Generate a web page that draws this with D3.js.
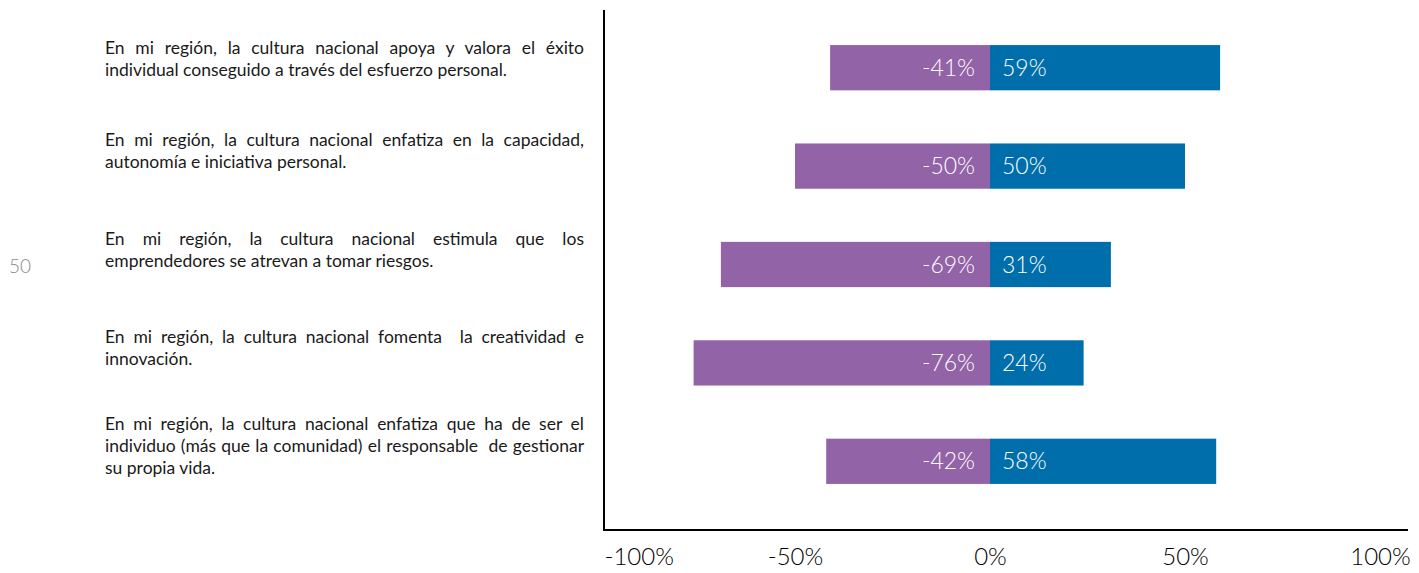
<!DOCTYPE html>
<html>
<head>
<meta charset="utf-8">
<script src="https://cdn.jsdelivr.net/npm/d3@7"></script>
<style>
  html, body { margin: 0; padding: 0; background: #fff; }
  svg { display: block; }
  .stmt { font-family: "Lato", "Open Sans", sans-serif; fill: #1a1a1a; white-space: pre; }
  .val { font-family: "Lato", "Open Sans", sans-serif; font-weight: 300; fill: #fff; }
  .tick text { font-family: "Lato", "Open Sans", sans-serif; font-weight: 300; fill: #000; }
</style>
</head>
<body>
<svg id="chart" width="1419" height="573"></svg>
<script>
// Survey statements, one line per array entry (as wrapped on the page)
const statements = [
  ["En mi región, la cultura nacional apoya y valora el éxito",
   "individual conseguido a través del esfuerzo personal."],
  ["En mi región, la cultura nacional enfatiza en la capacidad,",
   "autonomía e iniciativa personal."],
  ["En mi región, la cultura nacional estimula que los",
   "emprendedores se atrevan a tomar riesgos."],
  ["En mi región, la cultura nacional fomenta  la creatividad e",
   "innovación."],
  ["En mi región, la cultura nacional enfatiza que ha de ser el",
   "individuo (más que la comunidad) el responsable  de gestionar",
   "su propia vida."]
];
const negative = [-41, -50, -69, -76, -42];   // disagree share (%)
const positive = [59, 50, 31, 24, 58];        // agree share (%)
const xTicks = [-100, -50, 0, 50, 100];
const pageNumber = "50";

const colorNeg = "#9363A7";
const colorPos = "#006EAA";

const svg = d3.select("#chart");

const x = d3.scaleLinear().domain([-100, 100]).range([600, 1380]);
const y = d3.scaleBand()
  .domain(d3.range(statements.length))
  .range([18.5, 510.5])
  .paddingInner(0.54)
  .paddingOuter(0.27);

// Bars
const rows = svg.append("g").selectAll("g")
  .data(d3.range(statements.length))
  .join("g");

rows.append("rect")
  .attr("x", i => x(negative[i]))
  .attr("y", i => y(i))
  .attr("width", i => x(0) - x(negative[i]))
  .attr("height", y.bandwidth())
  .attr("fill", colorNeg);

rows.append("rect")
  .attr("x", x(0))
  .attr("y", i => y(i))
  .attr("width", i => x(positive[i]) - x(0))
  .attr("height", y.bandwidth())
  .attr("fill", colorPos);

// Value labels inside bars
rows.append("text")
  .attr("class", "val")
  .attr("x", x(0) - 15)
  .attr("y", i => y(i) + y.bandwidth() / 2 + 8)
  .attr("text-anchor", "end")
  .attr("font-size", 23)
  .text(i => negative[i] + "%");

rows.append("text")
  .attr("class", "val")
  .attr("x", x(0) + 12)
  .attr("y", i => y(i) + y.bandwidth() / 2 + 8)
  .attr("font-size", 23)
  .text(i => positive[i] + "%");

// Statement labels, justified between left and right edges
const textLeft = 105, textRight = 584, lineH = 22;
statements.forEach((lines, i) => {
  const cy = y(i) + y.bandwidth() / 2 - (i === 0 ? 8 : 14);
  const first = cy - (lines.length - 1) * lineH / 2 + 5;
  lines.forEach((ln, j) => {
    const t = svg.append("text")
      .attr("class", "stmt")
      .attr("x", textLeft)
      .attr("y", first + j * lineH)
      .attr("font-size", 17.5)
      .text(ln);
    if (j < lines.length - 1) {
      const w = t.node().getComputedTextLength();
      const gaps = (ln.match(/ /g) || []).length;
      if (gaps > 0) t.attr("word-spacing", (textRight - textLeft - w) / gaps);
    }
  });
});

// Axes
svg.append("line")
  .attr("x1", 604).attr("x2", 604)
  .attr("y1", 10).attr("y2", 531)
  .attr("stroke", "#000").attr("stroke-width", 2);

const xAxis = svg.append("g")
  .attr("transform", "translate(0,530)")
  .call(d3.axisBottom(x).tickValues(xTicks).tickSize(0).tickPadding(18)
    .tickFormat(d => d + "%"));
xAxis.select(".domain").remove();
xAxis.selectAll(".tick text")
  .attr("font-size", 24)
  .attr("text-anchor", (d, i) => i === 0 ? "start" : "middle")
  .attr("dx", (d, i) => i === 0 ? 4 : 0);

svg.append("line")
  .attr("x1", 603).attr("x2", 1408)
  .attr("y1", 530).attr("y2", 530)
  .attr("stroke", "#000").attr("stroke-width", 2);

// Page number
svg.append("text")
  .attr("x", 9).attr("y", 273)
  .attr("font-family", "Lato, sans-serif")
  .attr("font-weight", 300)
  .attr("font-size", 19)
  .attr("fill", "#8a8a8a")
  .text(pageNumber);
</script>
</body>
</html>
